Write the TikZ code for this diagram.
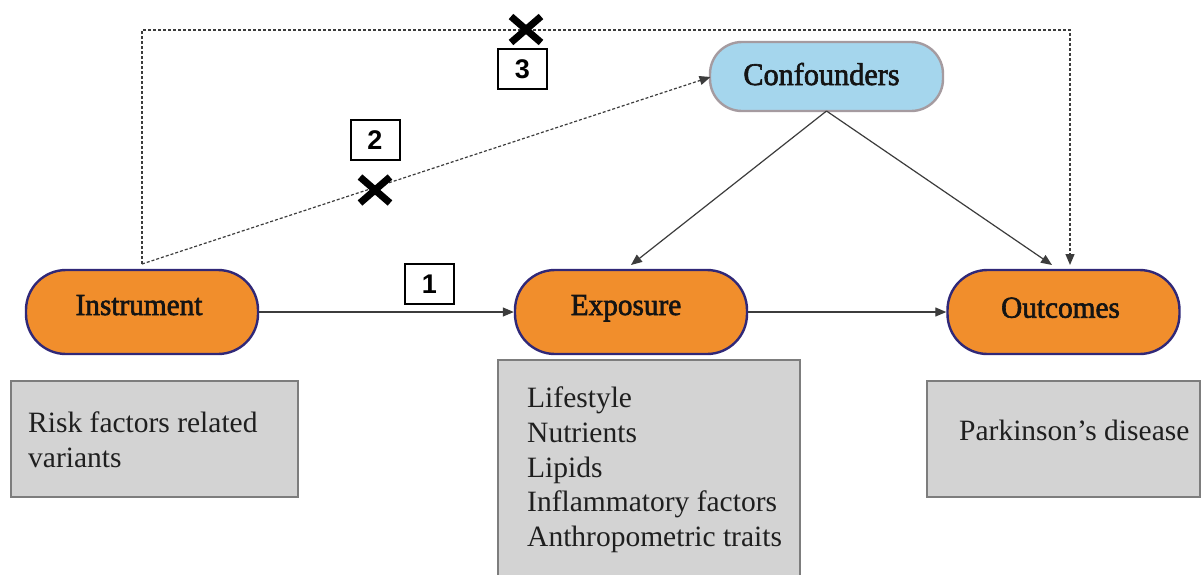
\documentclass[tikz,border=0pt]{standalone}
\usepackage{fontspec}
\setmainfont{Liberation Serif}
\setsansfont{Liberation Sans}
\newfontfamily\labfont[FakeStretch=0.96,FakeBold=2]{Liberation Serif}
\usetikzlibrary{arrows.meta}
\definecolor{pillorange}{RGB}{241,142,44}
\definecolor{pillborder}{RGB}{48,40,120}
\definecolor{confblue}{RGB}{165,214,237}
\definecolor{confborder}{RGB}{165,155,160}
\definecolor{boxgray}{RGB}{211,211,211}
\definecolor{boxborder}{RGB}{125,125,125}
\definecolor{linegray}{RGB}{60,60,60}
\tikzset{
  pill/.style={draw=pillborder, fill=pillorange, line width=2.4pt, rounded corners=40pt,
    minimum width=232pt, minimum height=84pt, inner sep=0pt,
    text height=20pt, text depth=14pt,
    font=\labfont\fontsize{30.5}{36}\selectfont, text=black!92},
  confpill/.style={draw=confborder, fill=confblue, line width=2.4pt, rounded corners=32pt,
    minimum width=233pt, minimum height=69pt, inner sep=0pt,
    text height=20pt, text depth=3pt,
    font=\labfont\fontsize{31.5}{36}\selectfont, text=black!92},
  graybox/.style={draw=boxborder, fill=boxgray, line width=1.5pt, inner sep=0pt},
  boxtext/.style={font=\fontsize{29.5}{34.8}\selectfont, align=left, inner sep=0pt, text=black!88},
  numbox/.style={draw=black, line width=2pt, minimum width=49pt, minimum height=40pt,
    inner sep=0pt, font=\sffamily\bfseries\fontsize{27}{30}\selectfont},
  conn/.style={draw=linegray, line width=1.2pt, -{Triangle[length=11pt,width=9pt]}},
  dotconn/.style={draw=linegray, line width=1.2pt, dash pattern=on 3pt off 2pt,
    -{Triangle[length=11pt,width=9pt]}},
  crossmark/.style={line width=7pt, draw=black}
}
\begin{document}
\begin{tikzpicture}[x=1pt,y=-1pt]
\useasboundingbox (0,0) rectangle (1202,574);
\fill[white] (0,0) rectangle (1202,574);

% gray boxes
\node[graybox, minimum width=287pt, minimum height=116pt] (ibox) at (154.5,439) {};
\node[graybox, minimum width=302pt, minimum height=220pt] (ebox) at (649,470) {};
\node[graybox, minimum width=273pt, minimum height=116pt] (obox) at (1063.5,439) {};

\node[boxtext, anchor=north west] (itext) at (28,411.9) {Risk factors related\\variants};
\node[boxtext, anchor=north west] (etext) at (527,386.6) {Lifestyle\\Nutrients\\Lipids\\Inflammatory factors\\Anthropometric traits};
\node[boxtext, anchor=base west] (otext) at (959,440) {Parkinson’s disease};

% main nodes
\node[pill] (ins) at (142,312) {Instrument\hspace*{6pt}};
\node[pill] (exp) at (631,312) {Exposure\hspace*{10pt}};
\node[pill, text depth=8.6pt] (out) at (1063.5,312) {Outcomes\hspace*{6pt}};
\node[confpill] (conf) at (826.5,76.5) {Confounders\hspace*{10pt}};

% number boxes
\node[numbox] (n1) at (429.5,284) {1};
\node[numbox] (n2) at (375,140) {2};
\node[numbox] (n3) at (522.5,69) {3};

% connectors
\draw[conn] (ins.east) -- (exp.west);
\draw[conn] (exp.east) -- (out.west);
\coordinate (cb) at (826.5,111);
\coordinate (ce) at (631,265);
\coordinate (co) at (1052,265);
\draw[conn] (cb) -- (ce);
\draw[conn] (cb) -- (co);

\coordinate (ds) at (142,264);
\coordinate (d1) at (142,30);
\coordinate (d2) at (1070,30);
\coordinate (de) at (1070,265);
\coordinate (cl) at (710.5,77);
\draw[dotconn] (ds) -- (d1) -- (d2) -- (de);
\draw[dotconn] (ds) -- (cl);

% crosses
\coordinate (xa) at (526,29.5);
\coordinate (xb) at (375,190);
\draw[crossmark] ([shift={(-15,-13)}]xa) -- ([shift={(15,13)}]xa);
\draw[crossmark] ([shift={(-15,13)}]xa) -- ([shift={(15,-13)}]xa);
\draw[crossmark] ([shift={(-15,-13)}]xb) -- ([shift={(15,13)}]xb);
\draw[crossmark] ([shift={(-15,13)}]xb) -- ([shift={(15,-13)}]xb);
\end{tikzpicture}
\end{document}
